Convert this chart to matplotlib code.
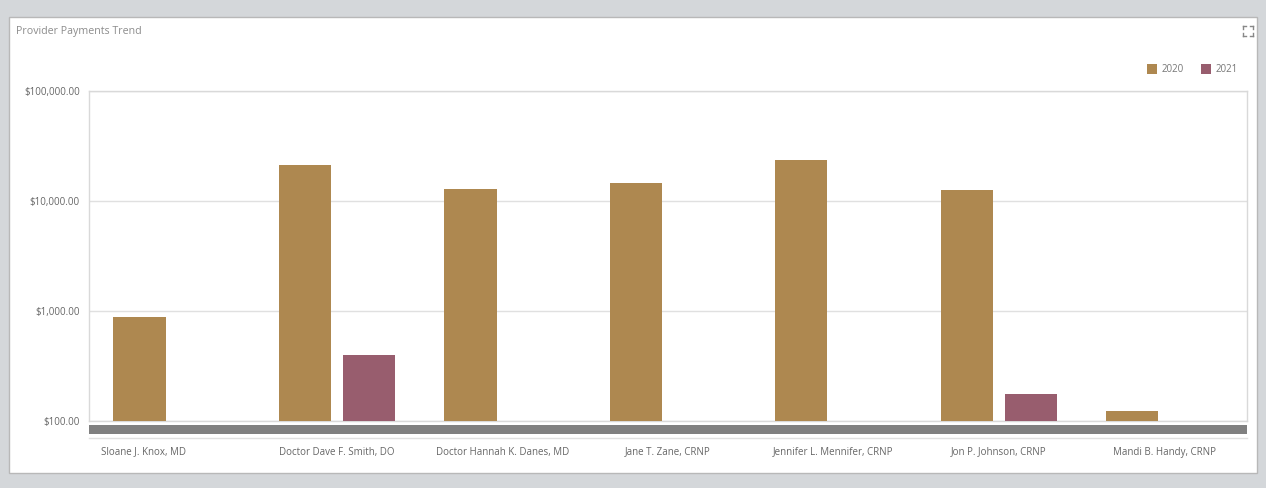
import matplotlib
matplotlib.use("Agg")
import matplotlib.pyplot as plt
from matplotlib.patches import Rectangle
from matplotlib.ticker import FixedLocator, FuncFormatter, NullLocator
import numpy as np

plt.rcParams['font.family'] = ['Open Sans', 'DejaVu Sans']

providers = ["Sloane J. Knox, MD", "Doctor Dave F. Smith, DO", "Doctor Hannah K. Danes, MD",
             "Jane T. Zane, CRNP", "Jennifer L. Mennifer, CRNP", "Jon P. Johnson, CRNP",
             "Mandi B. Handy, CRNP"]
series_names = ["2020", "2021"]
payments_2020 = [880, 21200, 12850, 14600, 23600, 12600, 123]
payments_2021 = [np.nan, 400, np.nan, np.nan, np.nan, 176, np.nan]
colors = ["#AE8850", "#985D6E"]

W, H = 1266, 488
fig = plt.figure(figsize=(W / 100, H / 100), dpi=100)
fig.patch.set_facecolor("#D4D7DA")

def fx(px): return px / W
def fy(py): return 1 - py / H

# white card
fig.patches.append(Rectangle((fx(9), fy(473)), fx(1257) - fx(9), fy(17) - fy(473),
                             transform=fig.transFigure, facecolor="white",
                             edgecolor="#B8B8B8", linewidth=1, zorder=-5))

ax = fig.add_axes([fx(89), fy(421), fx(1247) - fx(89), fy(91) - fy(421)])
ax.set_zorder(2)
ax.set_facecolor("white")

x = np.arange(len(providers))
bw = 0.316
off = 0.194
ax.bar(x - off, payments_2020, width=bw, color=colors[0], zorder=3, label=series_names[0])
ax.bar(x + off, payments_2021, width=bw, color=colors[1], zorder=3, label=series_names[1])

ax.set_yscale("log")
ax.set_ylim(100, 100000)
ax.set_xlim(-0.5, len(providers) - 0.5)
ax.yaxis.set_major_locator(FixedLocator([100, 1000, 10000, 100000]))
ax.yaxis.set_minor_locator(NullLocator())
ax.yaxis.set_major_formatter(FuncFormatter(lambda v, p: f"${v:,.2f}"))
ax.grid(axis="y", color="#E0E0E0", linewidth=1, zorder=0)
ax.tick_params(axis="y", length=0, pad=6.5, labelsize=7, labelcolor="#666666")
ax.set_xticks([])
for s in ax.spines.values():
    s.set_color("#D9D9D9")
    s.set_linewidth(1)

# category labels below the scroll bar
label_shift = [-28, 0, 0, 0, 0, 0, 0]
fig.canvas.draw()
for i, name in enumerate(providers):
    xd = ax.transData.transform((i, 100))[0] + label_shift[i]
    fig.text(xd / W, fy(452), name, ha="center", va="center", fontsize=7, color="#666666")

# gray scroll bar and thin line
fig.patches.append(Rectangle((fx(89), fy(434)), fx(1247) - fx(89), fy(425) - fy(434),
                             transform=fig.transFigure, facecolor="#808080",
                             edgecolor="none", zorder=2))
fig.lines.append(plt.Line2D([fx(89), fx(1247)], [fy(437.5), fy(437.5)],
                            transform=fig.transFigure, color="#E0E0E0", linewidth=1))

# title
fig.text(fx(16), fy(31.5), "Provider Payments Trend", ha="left", va="center",
         fontsize=7.7, color="#8C8C8C")

# legend
for sx, lbl, c in [(1147, series_names[0], colors[0]), (1201, series_names[1], colors[1])]:
    fig.patches.append(Rectangle((fx(sx), fy(74)), fx(10), fy(64) - fy(74),
                                 transform=fig.transFigure, facecolor=c, edgecolor="none"))
    fig.text(fx(sx + 15), fy(69.5), lbl, ha="left", va="center", fontsize=7, color="#777777")

# expand icon (four small corner arrows)
cx, cy = 1248, 31
for dx, dy in [(-1, -1), (1, -1), (-1, 1), (1, 1)]:
    x0, y0 = cx + dx * 5, cy + dy * 5
    fig.lines.append(plt.Line2D([fx(x0), fx(x0 - dx * 3)], [fy(y0), fy(y0)],
                                transform=fig.transFigure, color="#888888", linewidth=1))
    fig.lines.append(plt.Line2D([fx(x0), fx(x0)], [fy(y0), fy(y0 - dy * 3)],
                                transform=fig.transFigure, color="#888888", linewidth=1))

fig.savefig("out.png", dpi=100, facecolor=fig.get_facecolor())
